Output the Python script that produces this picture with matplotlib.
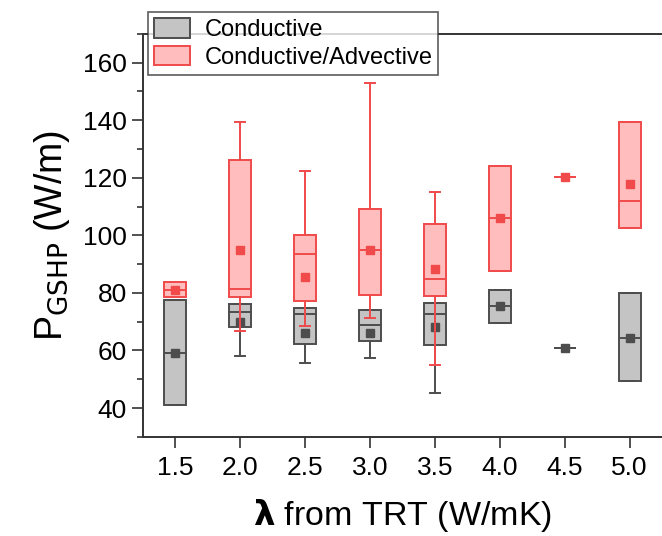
import matplotlib
matplotlib.use("Agg")
import matplotlib.pyplot as plt
from matplotlib.patches import Patch
from matplotlib.ticker import MultipleLocator

plt.rcParams["font.family"] = ["Liberation Sans", "DejaVu Sans"]

# thermal conductivity classes (W/mK)
lam = [1.5, 2.0, 2.5, 3.0, 3.5, 4.0, 4.5, 5.0]

# Conductive: whisker low, q1, median, q3, whisker high, mean
cond_wlo = [40.9, 58.1, 55.8, 57.4, 45.3, 69.7, 61.0, 49.4]
cond_q1 = [40.9, 68.3, 62.1, 63.3, 61.8, 69.7, 61.0, 49.4]
cond_med = [59.0, 73.3, 72.8, 68.8, 72.8, 75.3, 61.0, 64.5]
cond_q3 = [77.5, 76.3, 74.7, 74.0, 76.6, 81.0, 61.0, 79.9]
cond_whi = [77.5, 76.3, 74.7, 74.0, 76.6, 81.0, 61.0, 79.9]
cond_mean = [59.0, 69.9, 66.1, 66.1, 68.3, 75.3, 61.0, 64.5]

# Conductive/Advective
adv_wlo = [78.4, 66.8, 68.4, 71.4, 55.0, 87.7, 120.3, 102.5]
adv_q1 = [78.4, 78.4, 77.2, 79.2, 79.0, 87.7, 120.3, 102.5]
adv_med = [80.9, 81.3, 93.5, 95.0, 84.8, 105.9, 120.3, 112.0]
adv_q3 = [83.9, 126.1, 100.1, 109.0, 103.9, 123.9, 120.3, 139.4]
adv_whi = [83.9, 139.5, 122.2, 152.8, 115.0, 123.9, 120.3, 139.4]
adv_mean = [80.9, 95.0, 85.5, 94.8, 88.2, 105.9, 120.3, 117.9]


def make_stats(wlo, q1, med, q3, whi, mean):
    stats = []
    for i in range(len(lam)):
        stats.append({"whislo": wlo[i], "q1": q1[i], "med": med[i],
                      "q3": q3[i], "whishi": whi[i], "mean": mean[i],
                      "fliers": []})
    return stats


fig = plt.figure(figsize=(6.62, 5.36), dpi=100)
ax = fig.add_axes([0.216, 0.185, 0.784, 0.752])


def draw(stats, face, edge, zorder):
    ax.bxp(stats, positions=lam, widths=0.17, capwidths=0.08,
           showmeans=True, patch_artist=True, manage_ticks=False,
           boxprops=dict(facecolor=face, edgecolor=edge, linewidth=1.4),
           medianprops=dict(color=edge, linewidth=1.4),
           whiskerprops=dict(color=edge, linewidth=1.4),
           capprops=dict(color=edge, linewidth=1.4),
           meanprops=dict(marker="s", markersize=5.5, markerfacecolor=edge,
                          markeredgecolor=edge),
           zorder=zorder)


gray_face, gray_edge = "#c4c4c4", "#4d4d4d"
red_face, red_edge = "#ffbdbd", "#f04a4a"
draw(make_stats(cond_wlo, cond_q1, cond_med, cond_q3, cond_whi, cond_mean),
     gray_face, gray_edge, 2)
draw(make_stats(adv_wlo, adv_q1, adv_med, adv_q3, adv_whi, adv_mean),
     red_face, red_edge, 3)

ax.set_xlim(1.25, 5.25)
ax.set_ylim(30, 170)
ax.set_xticks(lam)
ax.set_xticklabels([f"{v:.1f}" for v in lam])
ax.yaxis.set_major_locator(MultipleLocator(20))
ax.yaxis.set_minor_locator(MultipleLocator(10))
ax.set_yticks([40, 60, 80, 100, 120, 140, 160])
ax.tick_params(axis="both", which="major", labelsize=19, length=8,
               width=1.2, color="#333333", direction="out")
ax.tick_params(axis="y", which="minor", length=4, width=1.2,
               color="#333333", direction="out")
ax.tick_params(axis="x", pad=6)
for side in ["left", "bottom", "top"]:
    ax.spines[side].set_linewidth(1.4)
    ax.spines[side].set_color("#333333")
ax.spines["right"].set_visible(False)

ax.set_ylabel(r"P$_{\rm GSHP}$ (W/m)", fontsize=27, labelpad=8)
ax.set_xlabel(r"$\mathbf{\lambda}$ from TRT (W/mK)", fontsize=24.5, labelpad=12)

handles = [Patch(facecolor=gray_face, edgecolor=gray_edge, linewidth=1.4),
           Patch(facecolor=red_face, edgecolor=red_edge, linewidth=1.4)]
leg = fig.legend(handles, ["Conductive", "Conductive/Advective"],
                 loc="upper left", bbox_to_anchor=(0.223, 0.977),
                 fontsize=17, frameon=True, fancybox=False,
                 handlelength=1.55, handleheight=0.9, handletextpad=0.6,
                 borderpad=0.25, labelspacing=0.2, borderaxespad=0)
leg.get_frame().set_edgecolor("#333333")
leg.get_frame().set_linewidth(1.2)

fig.savefig("out.png", dpi=100)
